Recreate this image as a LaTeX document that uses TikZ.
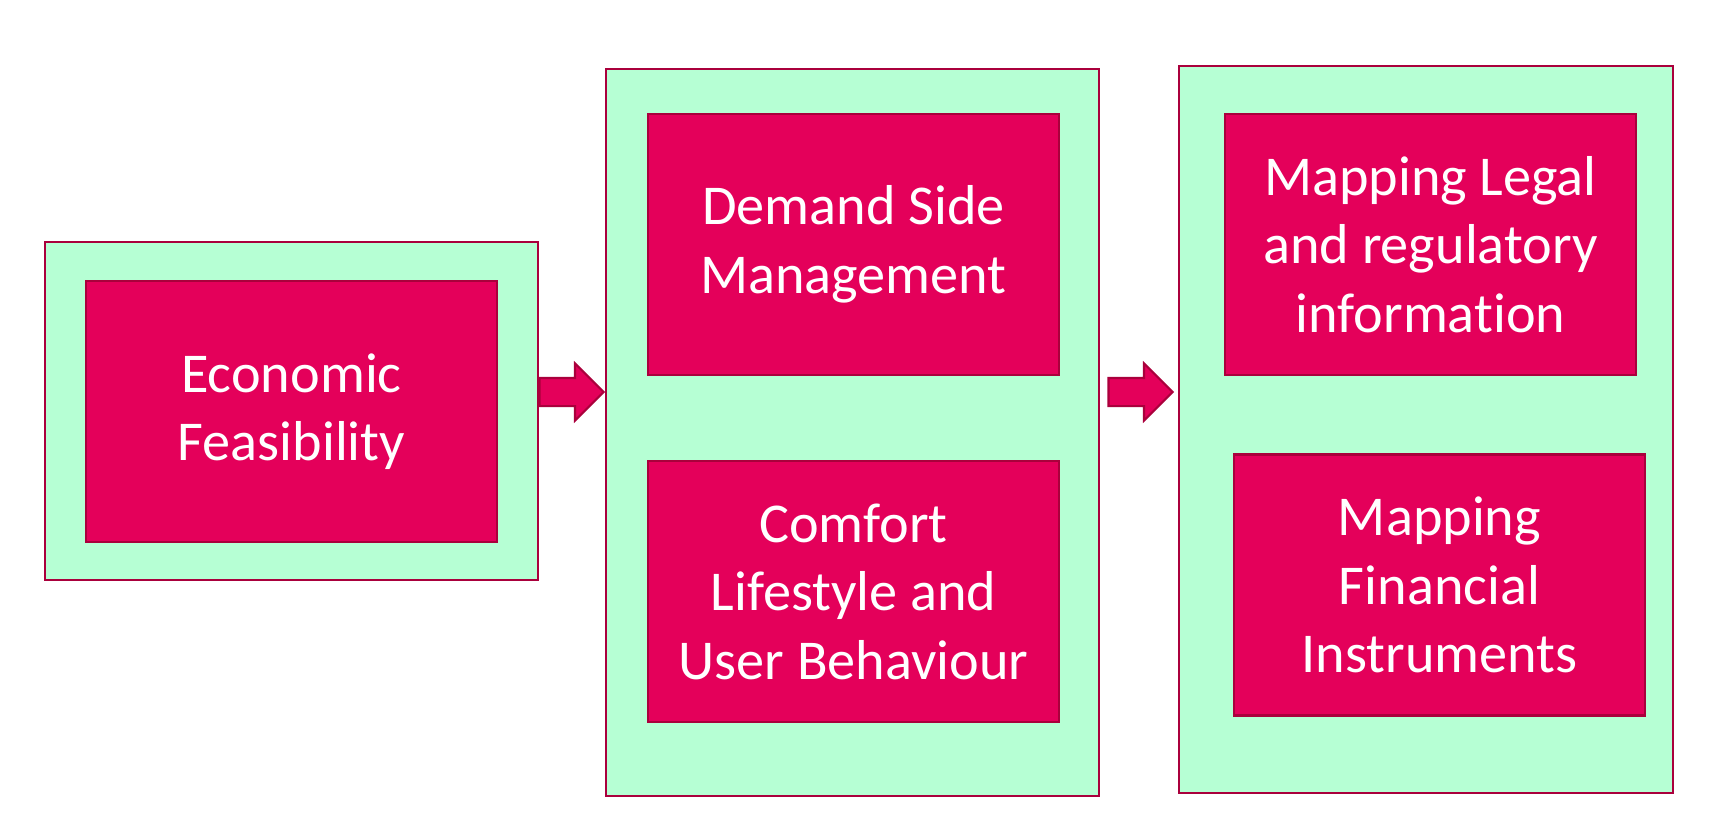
\documentclass[tikz,border=0pt]{standalone}
\usepackage{fontspec}
\setmainfont{Carlito}[Ligatures=NoCommon]
\usetikzlibrary{positioning,shapes.arrows}
\definecolor{stagemint}{RGB}{182,255,212}
\definecolor{stagepink}{RGB}{228,0,90}
\definecolor{stageedge}{RGB}{170,0,60}

\begin{document}
\begin{tikzpicture}[
            outer/.style={rectangle,draw=stageedge,fill=stagemint,line width=0.6pt,
                          minimum width=4.93cm},
            inner/.style={rectangle,draw=stageedge,fill=stagepink,line width=0.6pt,
                          minimum width=4.11cm,minimum height=2.61cm,align=center,
                          text=white,font=\fontsize{16}{19.5}\selectfont},
            flow/.style={single arrow,draw=stageedge,fill=stagepink,line width=0.6pt,
                         minimum height=0.64cm,inner xsep=0pt,inner ysep=0.13cm,
                         single arrow head extend=0.145cm}]
            \useasboundingbox (0,0) rectangle (17.16,-8.27);
            % stage boxes
            \node[outer,minimum height=3.38cm] (econ)  at (2.915,-4.11)  {};
            \node[outer,minimum height=7.27cm] (mid)   at (8.525,-4.325) {};
            \node[outer,minimum height=7.27cm,minimum width=4.94cm]
                                               (right) at (14.26,-4.295) {};
            % inner boxes
            \node[inner] (feas)  at (2.915,-4.115)  {Economic\\Feasibility};
            \node[inner] (dsm)   at (8.535,-2.445)  {Demand Side\\Management};
            \node[inner] (cmf)   at (8.535,-5.915)  {Comfort\\Lifestyle and\\User Behaviour};
            \node[inner] (legal) at (14.305,-2.445) {Mapping Legal\\and regulatory\\information};
            \node[inner] (fin)   at (14.395,-5.85)  {Mapping\\Financial\\Instruments};
            % arrows
            \node[flow] (a1) at (5.645,-3.92)  {};
            \node[flow] (a2) at (11.335,-3.92) {};
        \end{tikzpicture}
\end{document}
